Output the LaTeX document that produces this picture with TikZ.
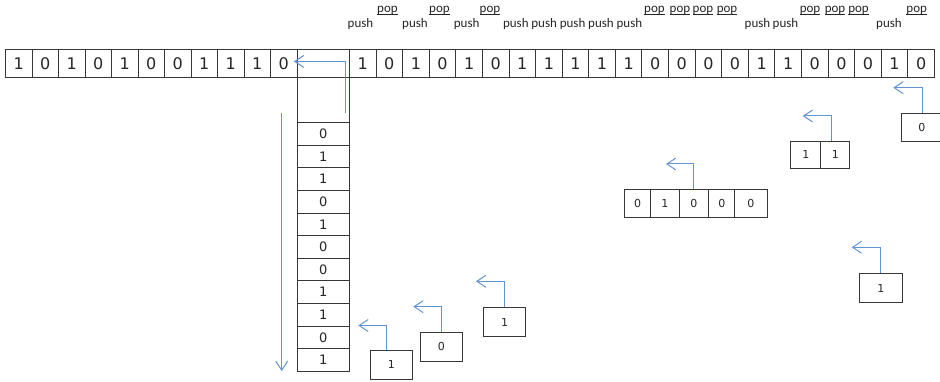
\documentclass[tikz,border=0pt]{standalone}
\usepackage{fontspec}
\setmainfont{Carlito}
\newfontfamily\digitfont{DejaVu Sans}
\usetikzlibrary{arrows.meta,calc}
\definecolor{linkblue}{RGB}{98,147,212}
\definecolor{cellline}{RGB}{55,55,55}
% underlined word with a rule just below the baseline
\newcommand\ulword[1]{\setbox0=\hbox{#1}\rlap{\rule[-2.6pt]{\wd0}{0.7pt}}\box0}
\tikzset{
  boxbase/.style={draw=cellline, line width=0.9pt, inner sep=0pt, anchor=north west, text=black!85},
  rowcell/.style={boxbase, minimum height=28pt, font=\digitfont\fontsize{16}{18}\selectfont},
  stackcell/.style={boxbase, minimum width=52.5pt, font=\digitfont\fontsize{13}{15}\selectfont},
  smallcell/.style={boxbase, font=\digitfont\fontsize{11}{13}\selectfont},
  flow/.style={draw=linkblue, line width=1pt, -{Straight Barb[length=9pt,width=12pt]}},
  oplabel/.style={font=\fontsize{13}{15}\selectfont, anchor=base, inner sep=0pt, text=black!85},
}
\begin{document}
\begin{tikzpicture}[x=1pt,y=-1pt]
\fill[white] (0,0) rectangle (940,382);
\useasboundingbox (0,0) rectangle (940,382);

% input bits, left part of the tape
\foreach \v [count=\k] in {1,0,1,0,1,0,0,1,1,1,0}
  \node[rowcell, minimum width=26.5pt] (L\k) at ({5+26.5*(\k-1)},49) {\v};
% the slot above the stack
\node[rowcell, minimum width=52.5pt] (G) at (296.5,49) {};
% right part of the tape
\foreach \v [count=\k] in {1,0,1,0,1,0,1,1,1,1,1,0,0,0,0,1,1,0,0,0,1,0}
  \node[rowcell, minimum width=26.59pt] (R\k) at ({349+26.59*(\k-1)},49) {\v};

% stack column
\node[stackcell, minimum height=45pt] (S0) at (296.5,77) {};
\foreach \v [count=\k] in {0,1,1,0,1,0,0,1,1,0,1}
  \node[stackcell, minimum height=22.64pt] (S\k) at (296.5,{122+22.64*(\k-1)}) {\v};

% push / pop operations above the tape
\foreach \x in {360.5,415,466.7,515.8,544.2,572.6,601,629.4,757.5,785.5,889}
  \node[oplabel] at (\x,28) {push};
\foreach \x in {387.5,439.5,490,654.5,680,703,727,810,835,858.5,916.7}
  \node[oplabel] at (\x,12.5) {\ulword{pop}};

% output from the stack back to the tape
\draw[flow] ([xshift=-4.5pt,yshift=10pt]S0.south east) |- ([xshift=-3.5pt,yshift=2pt]L11.east);
% reading direction of the stack
\coordinate (downA) at (281.7,112.7);
\coordinate (downB) at (281.7,371);
\draw[flow] (downA) -- (downB);

% single popped values
\node[smallcell, minimum width=41.7pt, minimum height=29pt] (bA) at (370,350) {1};
\node[smallcell, minimum width=41.7pt, minimum height=29pt] (bB) at (420,331.7) {0};
\node[smallcell, minimum width=41.7pt, minimum height=28.7pt] (bC) at (483.3,307.3) {1};
\node[smallcell, minimum width=42.4pt, minimum height=29pt] (bG) at (859.3,273.3) {1};
\node[smallcell, minimum width=41pt, minimum height=28.5pt] (bF) at (901,112.7) {0};

% popped groups
\foreach \xa/\xb/\v [count=\k] in {624.3/650/0,650/678.7/1,678.7/708.3/0,708.3/734.3/0,734.3/766.7/0}
  \node[smallcell, minimum width={(\xb-\xa)*1pt}, minimum height=28pt] (D\k) at (\xa,189.3) {\v};
\foreach \xa/\xb/\v [count=\k] in {790.3/820.3/1,820.3/849.3/1}
  \node[smallcell, minimum width={(\xb-\xa)*1pt}, minimum height=27pt] (E\k) at (\xa,140.7) {\v};

% return arrows
\coordinate (tA) at (358.3,325.5);
\coordinate (tB) at (413.3,306.7);
\coordinate (tC) at (476,281.3);
\coordinate (tD) at (666,164);
\coordinate (tE) at (802.7,116);
\coordinate (tF) at (893.3,87.7);
\coordinate (tG) at (851.7,247.3);
\draw[flow] ([xshift=-4.8pt]bA.north) |- (tA);
\draw[flow] (bB.north) |- (tB);
\draw[flow] (bC.north) |- (tC);
\draw[flow] (D3.north) |- (tD);
\draw[flow] ([xshift=-4pt]E2.north) |- (tE);
\draw[flow] ([xshift=0.7pt]bF.north) |- (tF);
\draw[flow] (bG.north) |- (tG);
\end{tikzpicture}
\end{document}
